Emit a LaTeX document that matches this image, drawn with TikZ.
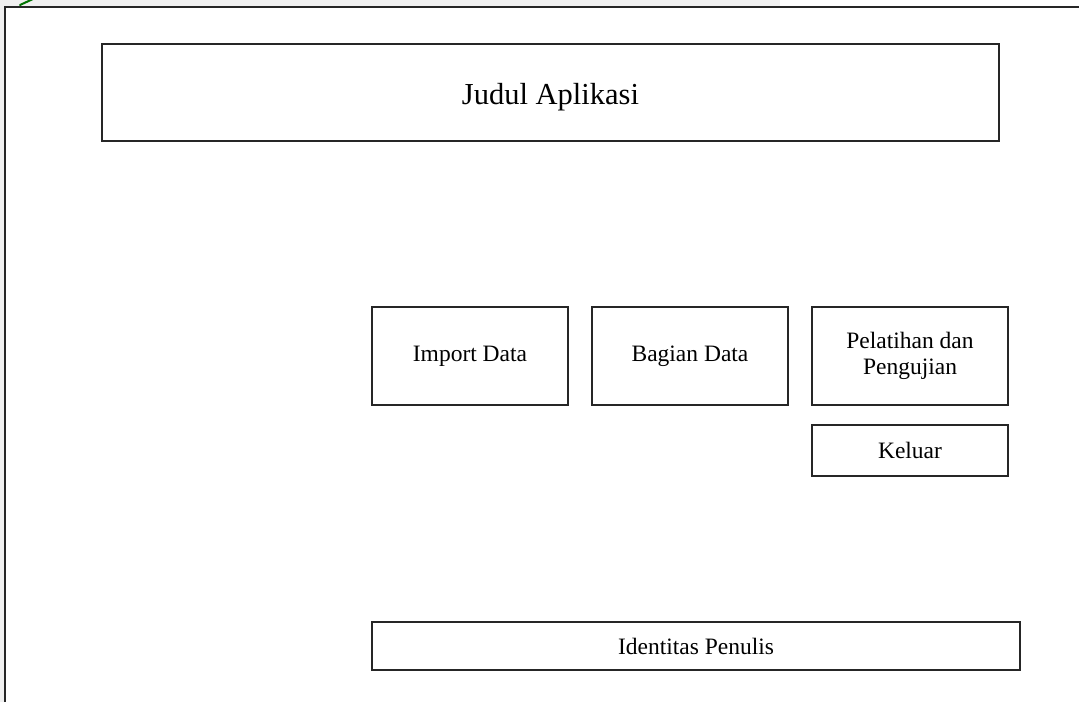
\documentclass[tikz,border=0pt]{standalone}
\usepackage{fontspec}
\setmainfont{Liberation Serif}
\begin{document}
\begin{tikzpicture}[x=1pt,y=-1pt,
  panel/.style={draw=black!85,line width=1.1pt,fill=white,inner sep=0pt,align=center,font=\fontsize{23.5}{29}\selectfont}]
\useasboundingbox (0,0) rectangle (1079,702);
% page margin strips
\fill[black!6] (0,0) rectangle (780,6);
\fill[black!6] (0,0) rectangle (4.5,702);
\draw[green!45!black,line width=2pt,line cap=round] (20,5) -- (33,-1);
% outer frame of the screen
\draw[black!85,line width=1.5pt] (5,702) -- (5,7) -- (1079,7);
% title bar
\node[panel,minimum width=897pt,minimum height=97pt,text height=31pt,text depth=7pt,
  font=\fontsize{30.5}{36}\selectfont] (title) at (550.5,92.5) {Judul Aplikasi};
% menu buttons
\node[panel,minimum width=196pt,minimum height=98pt] (import) at (470,356) {Import Data};
\node[panel,minimum width=196pt,minimum height=98pt] (bagian) at (690,356) {Bagian Data};
\node[panel,minimum width=196pt,minimum height=98pt] (latih) at (910,356) {Pelatihan dan\\[-3pt]Pengujian};
\node[panel,minimum width=196pt,minimum height=51pt] (keluar) at (910,450.5) {Keluar};
% footer
\node[panel,minimum width=648pt,minimum height=48pt] (penulis) at (696,646) {Identitas Penulis};
\end{tikzpicture}
\end{document}
